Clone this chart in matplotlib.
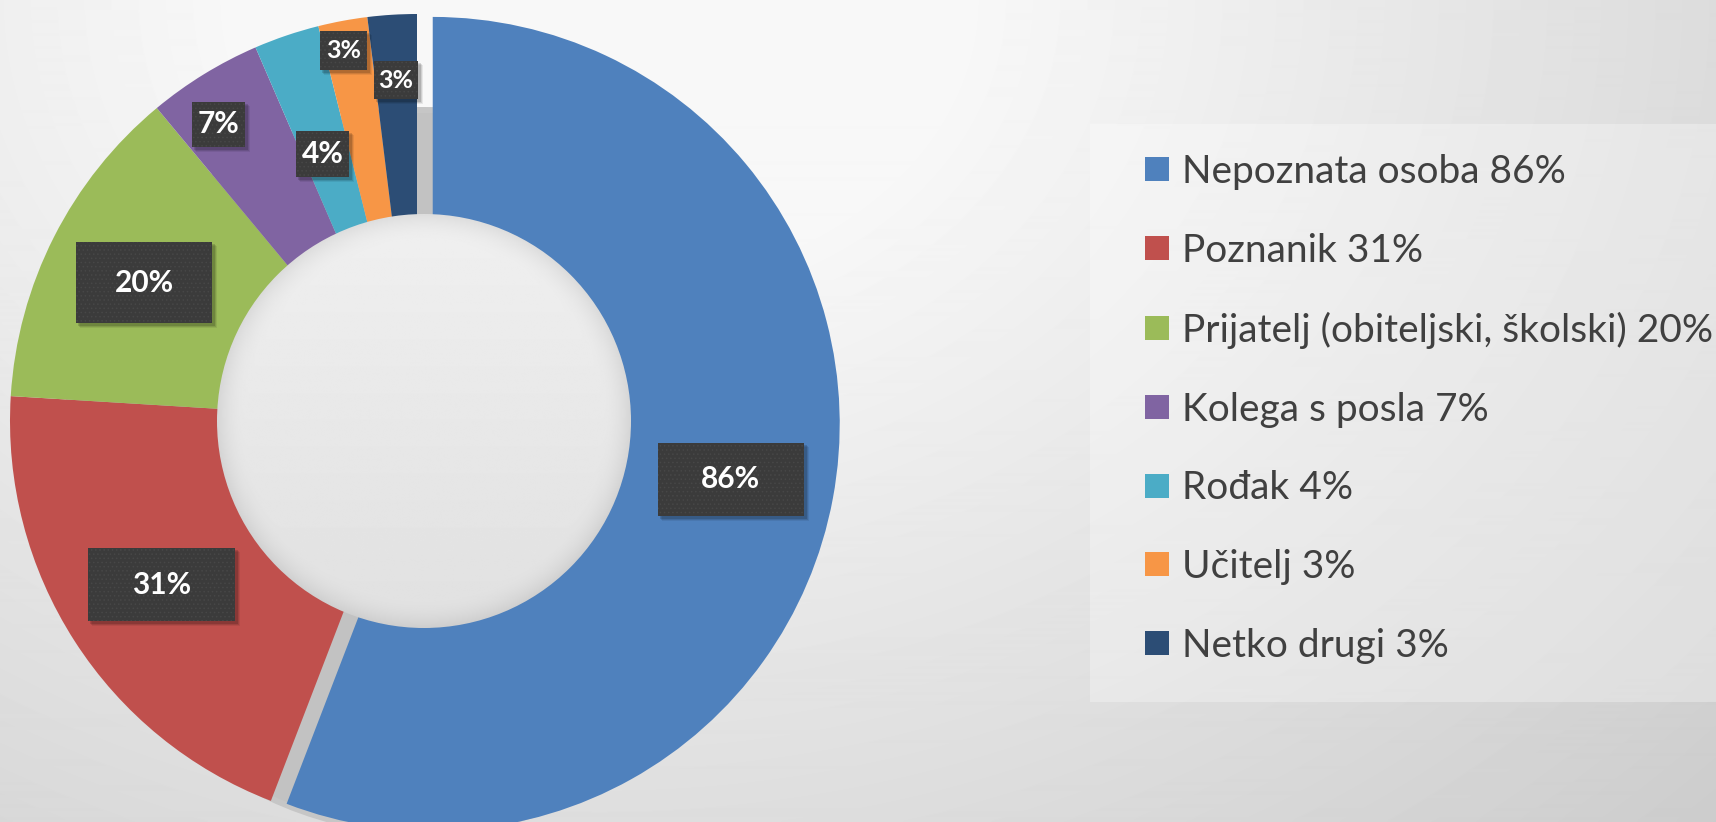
import matplotlib
matplotlib.use("Agg")
import matplotlib.pyplot as plt
import numpy as np
from matplotlib.patches import Rectangle, Circle

# podaci s grafikona
kategorije = ["Nepoznata osoba", "Poznanik", "Prijatelj (obiteljski, školski)",
              "Kolega s posla", "Rođak", "Učitelj", "Netko drugi"]
postoci = [86, 31, 20, 7, 4, 3, 3]
boje = ["#4F81BD", "#C0504D", "#9BBB59", "#8064A2", "#4BACC6", "#F79646", "#2C4D75"]

plt.rcParams["hatch.color"] = "#474747"
plt.rcParams["hatch.linewidth"] = 0.6

W, H = 1716, 822
fig = plt.figure(figsize=(W / 100, H / 100), dpi=100)
ax = fig.add_axes([0, 0, 1, 1])

# pozadina - blagi radijalni prijelaz
xx, yy = np.meshgrid(np.arange(W) + 0.5, np.arange(H) + 0.5)
d = np.hypot(xx - 600, 1.3 * yy)
pozadina = np.clip(261 - 0.0368 * d, 195, 248) / 255
ax.imshow(pozadina, cmap="gray", vmin=0, vmax=1, extent=[0, W, 0, H],
          origin="upper", zorder=0, interpolation="bilinear")

# krug (prsten)
cx, cy, R = 417, H - 421, 407
eksplozija = [16, 0, 0, 0, 0, 0, 0]

# siva sjena koja se vidi kroz procjep izdvojenog dijela
ax.add_patch(Circle((cx + 6, cy - 50), 364, facecolor="#c6c6c6", lw=0, zorder=0.5))
ax.add_patch(Circle((cx + 6, cy - 50), 358, facecolor="#c2c2c2", lw=0, zorder=0.6))

wedges, _ = ax.pie(postoci, colors=boje, startangle=90, counterclock=False,
                   radius=R, center=(cx, cy), explode=eksplozija,
                   wedgeprops=dict(width=R * 0.6, linewidth=0))

# rupa u sredini
hx, hy, hr = 424, H - 421, 207
gx, gy = np.meshgrid(np.linspace(-1, 1, 400), np.linspace(-1, 1, 400))
rr = np.hypot(gx, gy)
rupa = 0.94 - 0.06 * (gy + 1) / 2 - 0.07 * np.clip((rr - 0.86) / 0.14, 0, 1) ** 2
krug = Circle((hx, hy), hr, transform=ax.transData)
im = ax.imshow(rupa, cmap="gray", vmin=0, vmax=1,
               extent=[hx - hr, hx + hr, hy - hr, hy + hr], origin="upper",
               zorder=3, interpolation="bilinear")
im.set_clip_path(krug)

# oznake podataka
rel_r = [0.745, 0.745, 0.752, 0.877, 0.696, 0.928, 0.839]
kut_pomak = [0, 0, 0, 2.2, 0.8, 0.7, 0]
okviri = [(146, 73), (147, 73), (136, 81), (53, 45), (53, 46), (47, 39), (44, 38)]
vel_fonta = [21.5, 21.5, 21.5, 21.5, 21.5, 18, 18]

for w, p, r, dk, (bw, bh), fs in zip(wedges, postoci, rel_r, kut_pomak, okviri, vel_fonta):
    th = np.deg2rad((w.theta1 + w.theta2) / 2 + dk)
    x = w.center[0] + r * R * np.cos(th)
    y = w.center[1] + r * R * np.sin(th)
    # sjena
    for k, a in [(5, 0.07), (4, 0.1), (3, 0.14)]:
        ax.add_patch(Rectangle((x - bw / 2 + k - 1, y - bh / 2 - k), bw + 1, bh + 1,
                               facecolor="black", alpha=a, lw=0, zorder=4))
    ax.add_patch(Rectangle((x - bw / 2, y - bh / 2), bw, bh, facecolor="#3b3b3b",
                           hatch="....", lw=0, zorder=5))
    ax.text(x, y, f"{p}%", color="white", fontsize=fs, fontweight="bold",
            family="Lato", ha="center", va="center", zorder=6)

# legenda
ax.add_patch(Rectangle((1090, H - 702), W - 1090, 702 - 124, facecolor="white",
                       alpha=0.3, lw=0, zorder=1))
oznake = [f"{k} {p}%" for k, p in zip(kategorije, postoci)]
ax.legend(wedges, oznake, loc="center left", bbox_to_anchor=(1145 / W, 1 - 409 / H),
          bbox_transform=fig.transFigure, frameon=False,
          prop=dict(family="Lato", size=28), labelcolor="#404040",
          handlelength=0.617, handleheight=0.572, handletextpad=0.33,
          labelspacing=1.1, borderpad=0, borderaxespad=0)

ax.set_xlim(0, W)
ax.set_ylim(0, H)
ax.set_aspect("equal")
ax.axis("off")

fig.savefig("out.png", dpi=100)
